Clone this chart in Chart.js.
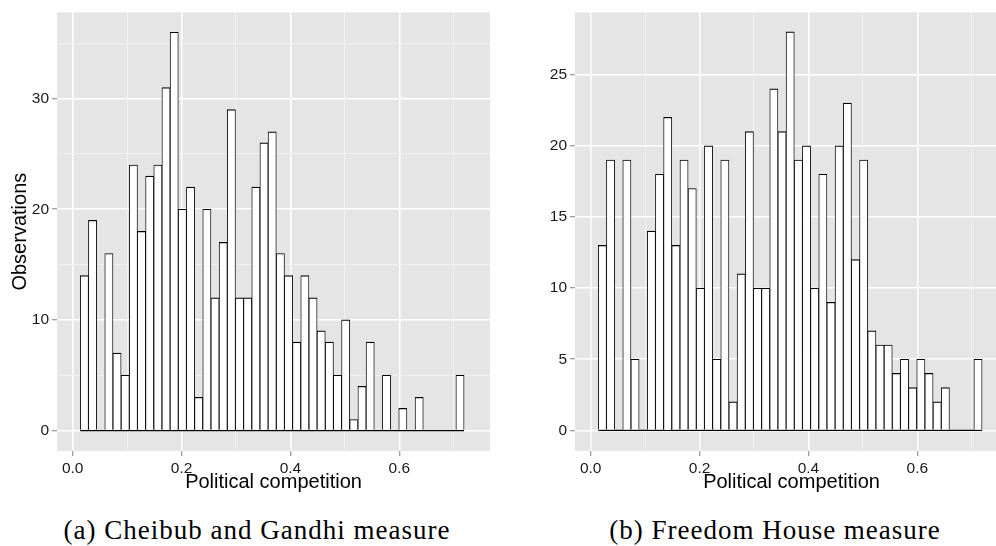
<!DOCTYPE html>
<html>
<head>
<meta charset="utf-8">
<script src="https://cdn.jsdelivr.net/npm/chart.js@4.4.0/dist/chart.umd.min.js"></script>
<style>
  html, body { margin: 0; padding: 0; background: #fff; overflow: hidden; width: 996px; height: 546px; }
  .panel { position: absolute; top: 0; width: 520px; height: 500px; }
  .caption {
    position: absolute; top: 517px;
    font-family: "Liberation Serif", serif; font-size: 27px; line-height: 27px;
    letter-spacing: 1px; white-space: nowrap; color: #000;
    transform: translateX(-50%);
  }
</style>
</head>
<body>
<div class="panel" style="left:0"><canvas id="histCG" width="520" height="500"></canvas></div>
<div class="panel" style="left:518px"><canvas id="histFH" width="520" height="500"></canvas></div>
<div class="caption" style="left:257px">(a) Cheibub and Gandhi measure</div>
<div class="caption" style="left:775px">(b) Freedom House measure</div>

<script>
// histogram bins (same breaks for both measures)
const binStart = 0.014;
const binWidth = 0.015;

// counts per bin
const countsCG = [14, 19, 0, 16, 7, 5, 24, 18, 23, 24, 31, 36, 20, 22, 3, 20, 12, 17, 29, 12,
                  12, 22, 26, 27, 16, 14, 8, 14, 12, 9, 8, 5, 10, 1, 4, 8, 0, 5, 0, 2,
                  0, 3, 0, 0, 0, 0, 5];
const countsFH = [13, 19, 0, 19, 5, 0, 14, 18, 22, 13, 19, 17, 10, 20, 5, 19, 2, 11, 21, 10,
                  10, 24, 21, 28, 19, 20, 10, 18, 9, 20, 23, 12, 19, 7, 6, 6, 4, 5, 3, 5,
                  4, 2, 3, 0, 0, 0, 5];

// axis ticks (major get labels, minor only a grid line)
const xTicks = [0, 0.1, 0.2, 0.3, 0.4, 0.5, 0.6, 0.7];
const yTicksCG = [0, 5, 10, 15, 20, 25, 30, 35];
const yTicksFH = [0, 5, 10, 15, 20, 25];

const xRange = [-0.0288, 0.7666];
const yRangeCG = [-1.85, 37.8];
const yRangeFH = [-1.45, 29.38];

const tickFont = { family: 'Liberation Sans', size: 15.5 };
const titleFont = { family: 'Liberation Sans', size: 20 };

// grey panel behind the grid
const panelBg = {
  id: 'panelBg',
  beforeDraw(chart) {
    const { ctx, chartArea: a } = chart;
    ctx.save();
    ctx.fillStyle = '#e5e5e5';
    ctx.fillRect(a.left, a.top, a.right - a.left, a.bottom - a.top);
    ctx.restore();
  }
};

function gridFor(isMajor) {
  const major = c => !c.tick || isMajor(c.tick.value);
  return {
    offset: false,
    color: c => major(c) ? '#ffffff' : '#f2f2f2',
    lineWidth: c => major(c) ? 1.5 : 0.9,
    tickColor: c => major(c) ? '#7f7f7f' : 'rgba(0,0,0,0)',
    tickWidth: 1,
    tickLength: 5,
    drawTicks: true
  };
}

function histogram(id, counts, yRange, yTicks, yStep, yTitle) {
  const bars = counts.map((c, i) => ({ x: binStart + binWidth * (i + 0.5), y: c }));
  const binEnd = binStart + binWidth * counts.length;
  const xMajor = v => Math.round(v * 10) % 2 === 0;
  const yMajor = v => v % yStep === 0;

  new Chart(document.getElementById(id), {
    type: 'bar',
    data: {
      datasets: [
        {
          data: bars,
          backgroundColor: '#ffffff',
          borderColor: '#000000',
          borderWidth: { top: 1.2, left: 0.9, right: 0.9, bottom: 0 },
          borderSkipped: false,
          barPercentage: 1,
          categoryPercentage: 1,
          grouped: false
        },
        {
          // empty bins still show as a line along zero
          type: 'line',
          data: [{ x: binStart, y: 0 }, { x: binEnd, y: 0 }],
          borderColor: '#000000',
          borderWidth: 1.2,
          pointRadius: 0
        }
      ]
    },
    options: {
      responsive: false,
      animation: false,
      layout: { padding: { top: 12, right: 30, left: 0, bottom: 0 } },
      plugins: { legend: { display: false }, tooltip: { enabled: false } },
      scales: {
        x: {
          type: 'linear',
          offset: false,
          min: xRange[0],
          max: xRange[1],
          afterBuildTicks: axis => { axis.ticks = xTicks.map(v => ({ value: v })); },
          afterFit: axis => { axis.height = 49; },
          grid: gridFor(xMajor),
          border: { display: false },
          ticks: {
            autoSkip: false, maxRotation: 0, padding: 3,
            font: tickFont, color: '#1a1a1a',
            callback: v => xMajor(v) ? v.toFixed(1) : ''
          },
          title: {
            display: true, text: 'Political competition',
            font: titleFont, color: '#000000',
            padding: { top: 0, bottom: 6 }
          }
        },
        y: {
          min: yRange[0],
          max: yRange[1],
          afterBuildTicks: axis => { axis.ticks = yTicks.map(v => ({ value: v })); },
          afterFit: axis => { axis.width = 57; },
          grid: gridFor(yMajor),
          border: { display: false },
          ticks: {
            autoSkip: false, padding: 3,
            font: tickFont, color: '#1a1a1a',
            callback: v => yMajor(v) ? String(v) : ''
          },
          title: {
            display: !!yTitle, text: yTitle || '',
            font: titleFont, color: '#000000',
            padding: { top: 8, bottom: 0 }
          }
        }
      }
    },
    plugins: [panelBg]
  });
}

histogram('histCG', countsCG, yRangeCG, yTicksCG, 10, 'Observations');
histogram('histFH', countsFH, yRangeFH, yTicksFH, 5, '');
</script>
</body>
</html>
